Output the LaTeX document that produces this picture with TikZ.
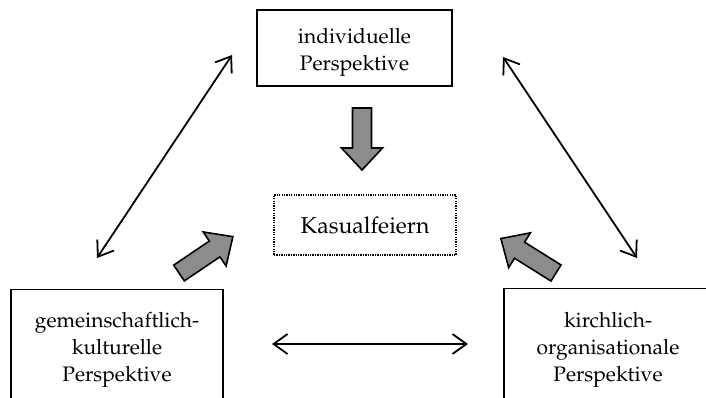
\documentclass[tikz,border=0pt]{standalone}
\usepackage[T1]{fontenc}
\usepackage{mathpazo}
\usetikzlibrary{arrows.meta}
\newcommand\fatarr[3]{\draw[fat, shift={(#1)}, rotate=#2] (0,-9.5) -- (#3-22,-9.5) -- (#3-22,-20.5) -- (#3,0) -- (#3-22,20.5) -- (#3-22,9.5) -- (0,9.5) -- cycle;}
\begin{document}
\begin{tikzpicture}[x=1pt,y=-1pt,
  pbox/.style={draw, line width=1.4pt, inner sep=0pt},
  ptext/.style={align=center, font=\fontsize{21}{27}\selectfont, inner sep=0pt},
  kbox/.style={draw, line width=1.5pt, dash pattern=on 1.3pt off 1.1pt, minimum width=182pt, minimum height=60pt, font=\fontsize{23}{28}\selectfont},
  rel/.style={line width=1.8pt, {Straight Barb[length=14pt,width=20pt]}-{Straight Barb[length=14pt,width=20pt]}},
  fat/.style={draw, line width=1.6pt, fill=black!45, line join=miter}
]
\useasboundingbox (0,0) rectangle (706,398);
\clip (0,0) rectangle (706,398);

% boxes
\node[pbox, minimum width=195pt, minimum height=76pt] (ind) at (354.5,48) {};
\node[ptext] (indt) at (354.5,52) {individuelle\\Perspektive};

\node[kbox] (kas) at (365,225) {Kasualfeiern};

\node[pbox, minimum width=212pt, minimum height=140pt, anchor=north] (gem) at (117,289) {};
\node[ptext] (gemt) at (117,350) {gemeinschaftlich-\\kulturelle\\Perspektive};

\node[pbox, minimum width=208pt, minimum height=140pt, anchor=north] (kir) at (608,288) {};
\node[ptext] (kirt) at (608,350) {kirchlich-\\organisationale\\Perspektive};

% relation arrows
\coordinate (l1) at (232,55);
\coordinate (l2) at (97,258);
\coordinate (r1) at (503,57);
\coordinate (r2) at (637,258);
\coordinate (h1) at (272,344);
\coordinate (h2) at (468,344);
\draw[rel] (l1) -- (l2);
\draw[rel] (r1) -- (r2);
\draw[rel] (h1) -- (h2);

% influence arrows
\coordinate (ta) at (362,108);
\coordinate (tb) at (179,273);
\coordinate (tc) at (556,273);
\fatarr{ta}{-90}{62}
\fatarr{tb}{34}{65}
\fatarr{tc}{148}{65}
\end{tikzpicture}
\end{document}
